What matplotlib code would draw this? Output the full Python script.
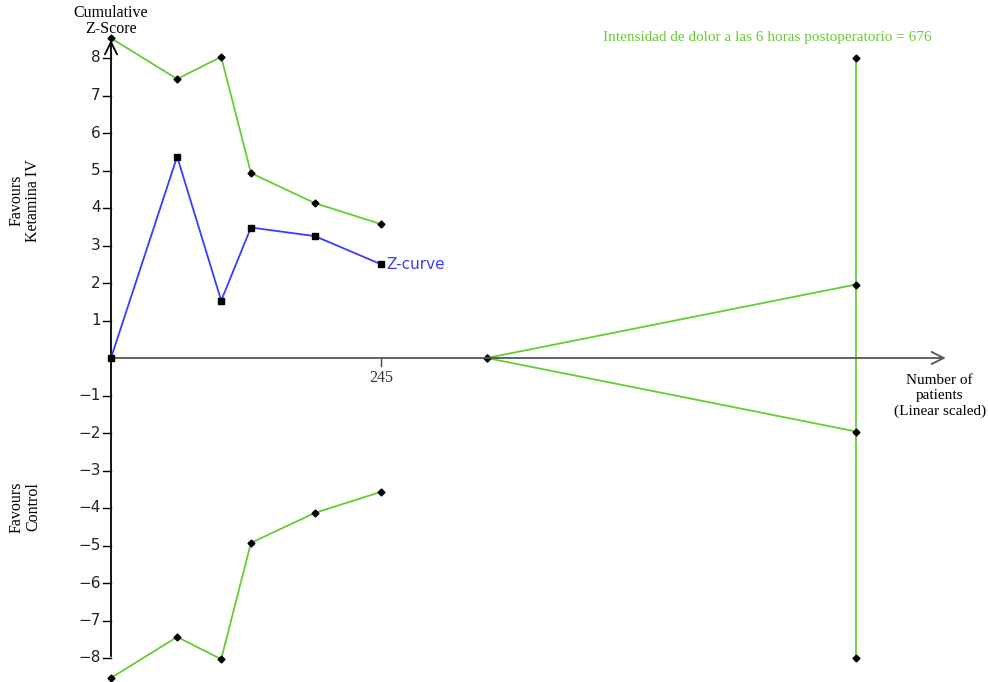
import matplotlib.pyplot as plt

# cumulative number of patients after each trial
patients = [0, 60, 100, 127, 185, 245]
z_curve = [0, 5.37, 1.53, 3.48, 3.25, 2.50]

# O'Brien-Fleming monitoring boundaries (benefit side, harm side mirrored)
upper_bound = [8.53, 7.44, 8.03, 4.93, 4.13, 3.57]
lower_bound = [-v for v in upper_bound]

# required information size and futility wedge
ris = 676
ris_bounds = [8.0, -8.0]
futility_start = 341
futility_end = [1.96, -1.96]

y_ticks = [-8, -7, -6, -5, -4, -3, -2, -1, 1, 2, 3, 4, 5, 6, 7, 8]
x_ticks = [245]

green = '#66cc33'
blue = '#3b3bff'
serif = 'Liberation Serif'

fig = plt.figure(figsize=(9.88, 6.82), dpi=100)
ax = fig.add_axes([0, 0, 1, 1])
px_x = 270 / 245   # pixels per patient
px_y = 37.5        # pixels per z unit
ax.set_xlim(-111 / px_x, (988 - 111) / px_x)
ax.set_ylim((358 - 682) / px_y, 358 / px_y)
ax.axis('off')

# axes drawn by hand, with arrow heads
ax.annotate('', xy=(0, 8.55), xytext=(0, -8.03),
            arrowprops=dict(arrowstyle='->', color='black', lw=1.3, mutation_scale=22))
ax.annotate('', xy=(760, 0), xytext=(0, 0),
            arrowprops=dict(arrowstyle='->', color='#555555', lw=1.3, mutation_scale=22))

tick_dx = 8 / px_x
for t in y_ticks:
    ax.plot([-tick_dx, 0], [t, t], color='black', lw=1)
    ax.text(-tick_dx - 2, t, str(t).replace('-', '\u2212'), ha='right', va='center',
            fontsize=11, color='#222222')
for t in x_ticks:
    ax.plot([t, t], [0, -8 / px_y], color='#444444', lw=1)
    ax.text(t, -0.33, str(t), ha='center', va='top', fontsize=11.5, family=serif, color='#333333')

# boundaries
ax.plot(patients, upper_bound, color=green, lw=1.3, marker='D', ms=3.5,
        mfc='black', mec='black')
ax.plot(patients, lower_bound, color=green, lw=1.3, marker='D', ms=3.5,
        mfc='black', mec='black')
ax.plot([ris, ris], ris_bounds, color=green, lw=1.3, marker='D', ms=3.5,
        mfc='black', mec='black')
for fe in futility_end:
    ax.plot([futility_start, ris], [0, fe], color=green, lw=1.3, marker='D', ms=3.5,
            mfc='black', mec='black')

# z-curve
ax.plot(patients, z_curve, color=blue, lw=1.3, marker='s', ms=5,
        mfc='black', mec='black', zorder=5)
ax.text(patients[-1] + 5, z_curve[-1], 'Z-curve', color=blue, fontsize=11,
        ha='left', va='center')

ax.text((603 - 111) / px_x, 8.55, 'Intensidad de dolor a las 6 horas postoperatorio = %d' % ris,
        color=green, fontsize=11, family=serif, ha='left', va='center')

ax.text(0, 8.99, 'Cumulative\nZ-Score', ha='center', va='center', fontsize=11.5,
        family=serif, linespacing=1.0)
ax.text(752, -0.44, 'Number of\npatients\n(Linear scaled)', ha='center', va='top',
        fontsize=11, family=serif, linespacing=1.2)
ax.text(-86 / px_x, 4.2, 'Favours\nKetamina IV', rotation=90, ha='center', va='center',
        fontsize=11.5, family=serif, linespacing=1.0)
ax.text(-86 / px_x, -3.97, 'Favours\nControl', rotation=90, ha='center', va='center',
        fontsize=11.5, family=serif, linespacing=1.0)

fig.savefig('out.png', dpi=100, facecolor='white')
